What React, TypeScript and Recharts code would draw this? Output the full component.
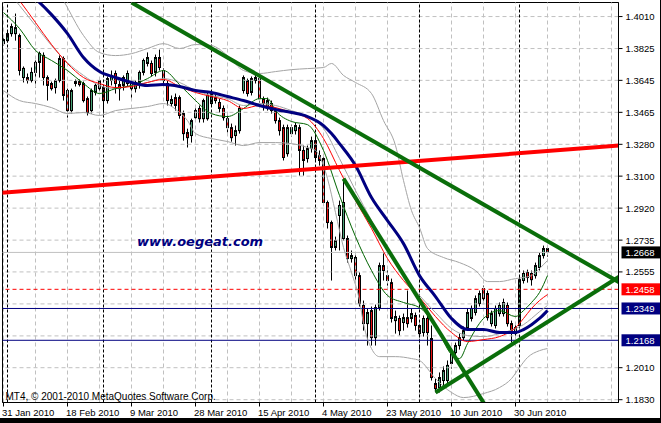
import React from 'react';
import { ComposedChart, Bar, Line, XAxis, YAxis, ReferenceLine, ReferenceArea } from 'recharts';

// EURUSD daily candles (broker feed with Sunday bars); bar 0 = 31 Jan 2010
// [open, high, low, close]
const candles: number[][] = [
  [1.3856, 1.3896, 1.3845, 1.3879], [1.3873, 1.3924, 1.3862, 1.3913], [1.3913, 1.3970, 1.3896, 1.3953],
  [1.3913, 1.4027, 1.3873, 1.3947], [1.3902, 1.3913, 1.3675, 1.3703], [1.3663, 1.3726, 1.3635, 1.3715],
  [1.3663, 1.3686, 1.3629, 1.3646], [1.3646, 1.3720, 1.3635, 1.3692], [1.3692, 1.3760, 1.3606, 1.3749],
  [1.3749, 1.3811, 1.3663, 1.3800], [1.3789, 1.3806, 1.3618, 1.3663], [1.3663, 1.3675, 1.3532, 1.3618],
  [1.3629, 1.3640, 1.3589, 1.3600], [1.3606, 1.3657, 1.3572, 1.3646], [1.3646, 1.3789, 1.3635, 1.3771],
  [1.3771, 1.3783, 1.3532, 1.3561], [1.3589, 1.3600, 1.3435, 1.3475], [1.3475, 1.3600, 1.3458, 1.3589],
  [1.3629, 1.3652, 1.3612, 1.3640], [1.3640, 1.3652, 1.3612, 1.3623], [1.3629, 1.3640, 1.3521, 1.3532],
  [1.3543, 1.3555, 1.3447, 1.3464], [1.3475, 1.3600, 1.3458, 1.3589], [1.3578, 1.3629, 1.3561, 1.3618],
  [1.3600, 1.3657, 1.3578, 1.3646], [1.3606, 1.3618, 1.3458, 1.3532], [1.3532, 1.3669, 1.3515, 1.3657],
  [1.3646, 1.3703, 1.3618, 1.3675], [1.3686, 1.3703, 1.3572, 1.3629], [1.3623, 1.3646, 1.3532, 1.3600],
  [1.3618, 1.3675, 1.3589, 1.3663], [1.3629, 1.3703, 1.3612, 1.3686], [1.3635, 1.3646, 1.3532, 1.3600],
  [1.3600, 1.3646, 1.3578, 1.3635], [1.3635, 1.3703, 1.3600, 1.3692], [1.3692, 1.3771, 1.3675, 1.3760],
  [1.3743, 1.3806, 1.3726, 1.3777], [1.3743, 1.3760, 1.3669, 1.3686], [1.3692, 1.3794, 1.3669, 1.3777],
  [1.3777, 1.3822, 1.3703, 1.3720], [1.3703, 1.3715, 1.3618, 1.3646], [1.3629, 1.3646, 1.3504, 1.3532],
  [1.3515, 1.3561, 1.3498, 1.3538], [1.3549, 1.3572, 1.3475, 1.3504], [1.3549, 1.3561, 1.3429, 1.3447],
  [1.3458, 1.3475, 1.3304, 1.3344], [1.3350, 1.3372, 1.3265, 1.3321], [1.3333, 1.3429, 1.3293, 1.3418],
  [1.3435, 1.3492, 1.3418, 1.3475], [1.3487, 1.3504, 1.3407, 1.3429], [1.3429, 1.3543, 1.3407, 1.3532],
  [1.3429, 1.3578, 1.3418, 1.3561], [1.3515, 1.3589, 1.3498, 1.3572], [1.3549, 1.3566, 1.3515, 1.3532],
  [1.3521, 1.3543, 1.3464, 1.3487], [1.3487, 1.3504, 1.3418, 1.3435], [1.3429, 1.3447, 1.3350, 1.3378],
  [1.3378, 1.3401, 1.3298, 1.3321], [1.3333, 1.3390, 1.3276, 1.3361], [1.3361, 1.3504, 1.3344, 1.3487],
  [1.3589, 1.3675, 1.3572, 1.3663], [1.3646, 1.3657, 1.3555, 1.3572], [1.3578, 1.3669, 1.3561, 1.3657],
  [1.3646, 1.3680, 1.3629, 1.3663], [1.3657, 1.3669, 1.3521, 1.3543], [1.3543, 1.3555, 1.3475, 1.3515],
  [1.3492, 1.3549, 1.3475, 1.3532], [1.3515, 1.3532, 1.3458, 1.3475], [1.3475, 1.3492, 1.3401, 1.3418],
  [1.3418, 1.3435, 1.3333, 1.3361], [1.3378, 1.3395, 1.3191, 1.3208], [1.3230, 1.3395, 1.3213, 1.3378],
  [1.3344, 1.3395, 1.3327, 1.3378], [1.3361, 1.3407, 1.3339, 1.3390], [1.3378, 1.3395, 1.3105, 1.3248],
  [1.3248, 1.3276, 1.3105, 1.3191], [1.3202, 1.3276, 1.3179, 1.3259], [1.3259, 1.3327, 1.3236, 1.3304],
  [1.3304, 1.3344, 1.3191, 1.3208], [1.3219, 1.3248, 1.3162, 1.3191], [1.3202, 1.3219, 1.2935, 1.2952],
  [1.2952, 1.2963, 1.2804, 1.2838], [1.2838, 1.2849, 1.2508, 1.2696], [1.2696, 1.2758, 1.2679, 1.2735],
  [1.2878, 1.2963, 1.2679, 1.2935], [1.2747, 1.3088, 1.2735, 1.2952], [1.2747, 1.2764, 1.2610, 1.2633],
  [1.2633, 1.2679, 1.2610, 1.2650], [1.2639, 1.2662, 1.2508, 1.2536], [1.2536, 1.2554, 1.2360, 1.2377],
  [1.2366, 1.2394, 1.2223, 1.2263], [1.2263, 1.2349, 1.2138, 1.2326], [1.2337, 1.2360, 1.2138, 1.2183],
  [1.2183, 1.2371, 1.2138, 1.2354], [1.2354, 1.2610, 1.2337, 1.2593], [1.2593, 1.2662, 1.2508, 1.2565],
  [1.2536, 1.2565, 1.2479, 1.2508], [1.2496, 1.2519, 1.2269, 1.2292], [1.2280, 1.2337, 1.2206, 1.2303],
  [1.2292, 1.2309, 1.2195, 1.2223], [1.2269, 1.2320, 1.2223, 1.2297], [1.2297, 1.2451, 1.2240, 1.2263],
  [1.2292, 1.2349, 1.2269, 1.2320], [1.2309, 1.2326, 1.2223, 1.2252], [1.2252, 1.2280, 1.2098, 1.2206],
  [1.2212, 1.2309, 1.2189, 1.2292], [1.2292, 1.2309, 1.2138, 1.2212], [1.2178, 1.2252, 1.1939, 1.1956],
  [1.1922, 1.1950, 1.1871, 1.1893], [1.1899, 1.1985, 1.1871, 1.1956], [1.1939, 1.2019, 1.1910, 1.1996],
  [1.1939, 1.2053, 1.1922, 1.2025], [1.2036, 1.2121, 1.2007, 1.2098], [1.2098, 1.2155, 1.2075, 1.2138],
  [1.2138, 1.2206, 1.2115, 1.2183], [1.2183, 1.2246, 1.2166, 1.2223], [1.2240, 1.2349, 1.2223, 1.2326],
  [1.2292, 1.2366, 1.2275, 1.2349], [1.2326, 1.2423, 1.2309, 1.2405], [1.2377, 1.2451, 1.2360, 1.2434],
  [1.2462, 1.2479, 1.2388, 1.2405], [1.2434, 1.2451, 1.2280, 1.2297], [1.2263, 1.2337, 1.2246, 1.2320],
  [1.2252, 1.2366, 1.2235, 1.2349], [1.2320, 1.2383, 1.2303, 1.2366], [1.2320, 1.2405, 1.2303, 1.2383],
  [1.2366, 1.2383, 1.2246, 1.2263], [1.2263, 1.2280, 1.2155, 1.2223], [1.2240, 1.2257, 1.2183, 1.2206],
  [1.2252, 1.2531, 1.2235, 1.2513], [1.2508, 1.2565, 1.2491, 1.2548], [1.2554, 1.2570, 1.2496, 1.2525],
  [1.2548, 1.2565, 1.2479, 1.2513], [1.2536, 1.2610, 1.2519, 1.2593], [1.2582, 1.2667, 1.2565, 1.2650],
  [1.2650, 1.2707, 1.2633, 1.2690], [1.2690, 1.2707, 1.2644, 1.2668],
];

// indicator readings as [bar, price]
const navyMa = [[0, 1.4283], [4, 1.4192], [8, 1.4112], [12, 1.4021], [16, 1.3913], [20, 1.3777], [24, 1.3697], [28, 1.3663], [32, 1.3635], [36, 1.3618], [40, 1.3623], [44, 1.3612], [48, 1.3589], [52, 1.3578], [56, 1.3555], [60, 1.3532], [64, 1.3504], [68, 1.3481], [72, 1.3464], [76, 1.3441], [80, 1.3390], [82, 1.3344], [84, 1.3287], [88, 1.3162], [92, 1.2980], [96, 1.2849], [100, 1.2718], [104, 1.2536], [108, 1.2417], [112, 1.2292], [116, 1.2229], [120, 1.2229], [124, 1.2212], [128, 1.2212], [130, 1.2229], [132, 1.2257], [134, 1.2292], [136, 1.2337]];
const redMa = [[0, 1.4215], [4, 1.4101], [8, 1.3976], [12, 1.3851], [16, 1.3743], [20, 1.3663], [24, 1.3629], [28, 1.3606], [32, 1.3612], [36, 1.3635], [40, 1.3652], [44, 1.3612], [48, 1.3578], [52, 1.3555], [56, 1.3532], [60, 1.3487], [64, 1.3504], [68, 1.3492], [72, 1.3464], [76, 1.3430], [80, 1.3316], [84, 1.3134], [88, 1.2963], [92, 1.2804], [96, 1.2633], [100, 1.2508], [104, 1.2411], [108, 1.2303], [112, 1.2212], [116, 1.2161], [120, 1.2172], [124, 1.2189], [128, 1.2240], [130, 1.2292], [132, 1.2349], [134, 1.2394], [136, 1.2428]];
const greenMa = [[0, 1.4033], [4, 1.3942], [8, 1.3817], [12, 1.3760], [16, 1.3703], [20, 1.3629], [24, 1.3572], [28, 1.3600], [32, 1.3618], [36, 1.3657], [40, 1.3703], [44, 1.3623], [48, 1.3532], [52, 1.3458], [56, 1.3441], [60, 1.3487], [64, 1.3543], [66, 1.3543], [68, 1.3475], [72, 1.3413], [76, 1.3395], [80, 1.3248], [84, 1.2992], [88, 1.2758], [92, 1.2565], [96, 1.2423], [100, 1.2383], [104, 1.2354], [108, 1.2252], [112, 1.2087], [114, 1.2064], [116, 1.2149], [120, 1.2292], [124, 1.2337], [128, 1.2303], [130, 1.2337], [132, 1.2383], [134, 1.2440], [136, 1.2536]];
const bandUpper = [[0, 1.4442], [8, 1.4329], [12, 1.4215], [15, 1.4101], [20, 1.3902], [24, 1.3805], [28, 1.3788], [32, 1.3799], [36, 1.3828], [40, 1.3856], [44, 1.3828], [48, 1.3851], [52, 1.3845], [56, 1.3788], [60, 1.3703], [64, 1.3686], [68, 1.3697], [72, 1.3708], [76, 1.3714], [80, 1.3720], [82, 1.3743], [85, 1.3675], [88, 1.3635], [92, 1.3572], [95, 1.3418], [98, 1.3276], [100, 1.3077], [102, 1.2906], [104, 1.2809], [106, 1.2690], [110, 1.2639], [114, 1.2610], [118, 1.2565], [121, 1.2502], [124, 1.2502], [128, 1.2519], [130, 1.2525], [132, 1.2536], [134, 1.2576], [136, 1.2622]];
const bandMiddle = [[0, 1.4186], [4, 1.4073], [8, 1.3959], [12, 1.3845], [16, 1.3748], [20, 1.3675], [24, 1.3618], [28, 1.3600], [32, 1.3618], [36, 1.3635], [40, 1.3657], [44, 1.3635], [48, 1.3589], [52, 1.3561], [56, 1.3543], [60, 1.3504], [64, 1.3515], [68, 1.3504], [72, 1.3475], [76, 1.3441], [80, 1.3373], [84, 1.3202], [88, 1.3020], [92, 1.2849], [96, 1.2679], [100, 1.2536], [104, 1.2423], [108, 1.2326], [112, 1.2235], [116, 1.2195], [120, 1.2189], [124, 1.2206], [128, 1.2235], [130, 1.2257], [132, 1.2292], [134, 1.2331], [136, 1.2366]];
const bandLower = [[0, 1.3589], [4, 1.3532], [8, 1.3515], [12, 1.3492], [16, 1.3458], [20, 1.3464], [24, 1.3447], [28, 1.3475], [32, 1.3487], [36, 1.3498], [40, 1.3515], [44, 1.3464], [46, 1.3418], [48, 1.3344], [52, 1.3316], [56, 1.3299], [60, 1.3276], [64, 1.3293], [68, 1.3293], [72, 1.3287], [76, 1.3265], [78, 1.3248], [80, 1.3162], [81, 1.3088], [83, 1.2895], [85, 1.2696], [87, 1.2554], [89, 1.2394], [90, 1.2263], [92, 1.2121], [94, 1.2075], [98, 1.2075], [102, 1.2064], [104, 1.2053], [108, 1.1950], [112, 1.1871], [115, 1.1842], [120, 1.1865], [124, 1.1899], [127, 1.1950], [129, 1.2013], [131, 1.2070], [134, 1.2109], [136, 1.2121]];

// trend lines, two anchors each
const downTrend = [[32, 1.4090], [154, 1.2497]];
const resistLine = [[-1, 1.3007], [154, 1.3276]];
const upTrend = [[108, 1.1871], [154, 1.2531]];
const steepTrend = [[85, 1.3088], [121, 1.1777]];

const levelA = 1.2349;
const levelB = 1.2168;
const alertLevel = 1.2458;
const bidPrice = 1.2668;

const gridLevels = [1.4010, 1.3828, 1.3647, 1.3465, 1.3283, 1.3102, 1.2920, 1.2738, 1.2557, 1.2375, 1.2193, 1.2012, 1.1830];
const gridLabels = ['1.4010', '1.3825', '1.3645', '1.3465', '1.3280', '1.3100', '1.2920', '1.2735', '1.2555', '1.2375', '1.2190', '1.2010', '1.1830'];
const labelledLevels = [1.4010, 1.3828, 1.3647, 1.3465, 1.3283, 1.3102, 1.2920, 1.2738, 1.2557, 1.2012, 1.1830];

const gridBars = [0, 8, 16, 24, 32, 40, 48, 56, 64, 72, 80, 88, 96, 104, 112, 120, 128, 136, 144, 152];
const monthStarts = [1, 25, 52, 78, 104, 129];
const dateTicks = [0, 16, 32, 48, 64, 80, 96, 112, 128];
const dateLabels = ['31 Jan 2010', '18 Feb 2010', '9 Mar 2010', '28 Mar 2010', '15 Apr 2010', '4 May 2010', '23 May 2010', '10 Jun 2010', '30 Jun 2010'];

const W = 661;
const H = 423;
const FONT = '"Liberation Sans", Arial, sans-serif';
const BULL = '#48a276';
const BEAR = '#e81010';

const rows = candles.map(([o, h, l, c], i) => ({ i, o, h, l, c, range: [l, h] }));
const pts = (arr: number[][]) => arr.map(([i, v]) => ({ i, v }));

function Candle(props: any) {
  const { x, y, width, height, payload } = props;
  if (x == null || y == null || !payload) return null;
  const top = Math.min(y, y + height);
  const bottom = Math.max(y, y + height);
  const span = payload.h - payload.l || 1e-9;
  const toY = (p: number) => top + ((payload.h - p) / span) * (bottom - top);
  const cx = Math.floor(x + width / 2) + 0.5;
  const bTop = toY(Math.max(payload.o, payload.c));
  let bBot = toY(Math.min(payload.o, payload.c));
  if (bBot - bTop < 1) bBot = bTop + 1;
  return (
    <g>
      <line x1={cx} x2={cx} y1={top} y2={bottom} stroke="#000" strokeWidth={1} />
      <rect x={cx - 1} y={bTop} width={2} height={bBot - bTop}
        fill={payload.c >= payload.o ? BULL : BEAR} stroke="#000" strokeWidth={1} />
    </g>
  );
}

function DateTick({ x, y, payload }: any) {
  const label = dateLabels[dateTicks.indexOf(payload.value)];
  return (
    <text x={x - 1.5} y={y + 7} fontSize={9.5} fontFamily={FONT} fill="#000" textAnchor="start">{label}</text>
  );
}

function PriceTick({ x, y, payload }: any) {
  const label = gridLabels[gridLevels.indexOf(payload.value)];
  return (
    <text x={x} y={y + 3.5} fontSize={9.5} fontFamily={FONT} fill="#000" textAnchor="start">{label}</text>
  );
}

// coloured price tag on the right scale for a horizontal level
function PriceTag({ viewBox, bg, text }: any) {
  if (!viewBox) return null;
  const x = viewBox.x + viewBox.width + 3;
  const y = viewBox.y;
  return (
    <g>
      <rect x={x} y={y - 6} width={39} height={12} fill={bg} />
      <text x={x + 4} y={y + 3.5} fontSize={9.5} fontFamily={FONT} fill="#fff">{text}</text>
    </g>
  );
}

export default function App() {
  return (
    <div style={{ position: 'absolute', left: 0, top: 0, width: W, height: H, background: '#fff', overflow: 'hidden' }}>
      <ComposedChart width={W} height={H} data={rows} margin={{ top: 2.5, right: 0, bottom: 0, left: 2.5 }}>
        <XAxis type="number" dataKey="i" domain={[-0.25, 153.75]} allowDataOverflow ticks={dateTicks} interval={0}
          height={20.5} tickSize={4} tickMargin={2} tick={DateTick}
          axisLine={{ stroke: '#000' }} tickLine={{ stroke: '#000' }} />
        <YAxis type="number" orientation="right" domain={[1.1814, 1.409]} allowDataOverflow ticks={labelledLevels}
          interval={0} width={42.5} tickSize={4} tickMargin={3} tick={PriceTick}
          axisLine={{ stroke: '#000' }} tickLine={{ stroke: '#000' }} />

        {gridLevels.map((p) => (
          <ReferenceLine key={'h' + p} y={p} stroke="#c0c0c0" strokeDasharray="4 3" />
        ))}
        {gridBars.map((b) => (
          <ReferenceLine key={'v' + b} x={b} stroke="#c0c0c0" strokeDasharray="4 3" />
        ))}
        {monthStarts.map((b) => (
          <ReferenceLine key={'m' + b} x={b} stroke="#000" strokeDasharray="3 2" />
        ))}

        <ReferenceLine y={bidPrice} stroke="#c0c0c0" label={<PriceTag bg="#000" text="1.2668" />} />
        <ReferenceLine y={alertLevel} stroke="#ff0000" strokeDasharray="4 3" label={<PriceTag bg="#ff0000" text="1.2458" />} />
        <ReferenceLine y={levelA} stroke="#000080" label={<PriceTag bg="#000080" text="1.2349" />} />
        <ReferenceLine y={levelB} stroke="#000080" label={<PriceTag bg="#000080" text="1.2168" />} />

        <Line data={pts(bandUpper)} dataKey="v" type="monotone" stroke="#a4a4a4" strokeWidth={1} dot={false} isAnimationActive={false} />
        <Line data={pts(bandMiddle)} dataKey="v" type="monotone" stroke="#a4a4a4" strokeWidth={1} dot={false} isAnimationActive={false} />
        <Line data={pts(bandLower)} dataKey="v" type="monotone" stroke="#a4a4a4" strokeWidth={1} dot={false} isAnimationActive={false} />

        <Bar dataKey="range" barSize={2} shape={(p: any) => <Candle {...p} />} isAnimationActive={false} />

        <Line data={pts(greenMa)} dataKey="v" type="monotone" stroke="#006400" strokeWidth={1} dot={false} isAnimationActive={false} />
        <Line data={pts(redMa)} dataKey="v" type="monotone" stroke="#ff0000" strokeWidth={1} dot={false} isAnimationActive={false} />
        <Line data={pts(navyMa)} dataKey="v" type="monotone" stroke="#000080" strokeWidth={3} dot={false} isAnimationActive={false} />

        <Line data={pts(resistLine)} dataKey="v" type="linear" stroke="#ff0000" strokeWidth={4} dot={false} isAnimationActive={false} />
        <Line data={pts(downTrend)} dataKey="v" type="linear" stroke="#0a6e0a" strokeWidth={4} dot={false} isAnimationActive={false} />
        <Line data={pts(upTrend)} dataKey="v" type="linear" stroke="#0a6e0a" strokeWidth={4} dot={false} isAnimationActive={false} />
        <Line data={pts(steepTrend)} dataKey="v" type="linear" stroke="#0a6e0a" strokeWidth={4} dot={false} isAnimationActive={false} />

        <ReferenceArea x1={-0.25} x2={153.75} y1={1.1814} y2={1.409} fill="none" stroke="#000" ifOverflow="visible" />
      </ComposedChart>

      <svg width={W} height={H} style={{ position: 'absolute', left: 0, top: 0, pointerEvents: 'none' }}>
        <text x={137} y={246} fontSize={13} fontWeight="bold" fontStyle="italic" fontFamily='"DejaVu Sans", Verdana, sans-serif' fill="#000080">
          www.oegeat.com
        </text>
        <text x={5.5} y={400} fontSize={10} fontFamily={FONT} fill="#000">MT4, © 2001-2010 MetaQuotes Software Corp.</text>
        <rect x={0} y={418} width={W} height={5} fill="#000" />
        <rect x={660} y={0} width={1} height={H} fill="#000" />
      </svg>
    </div>
  );
}
